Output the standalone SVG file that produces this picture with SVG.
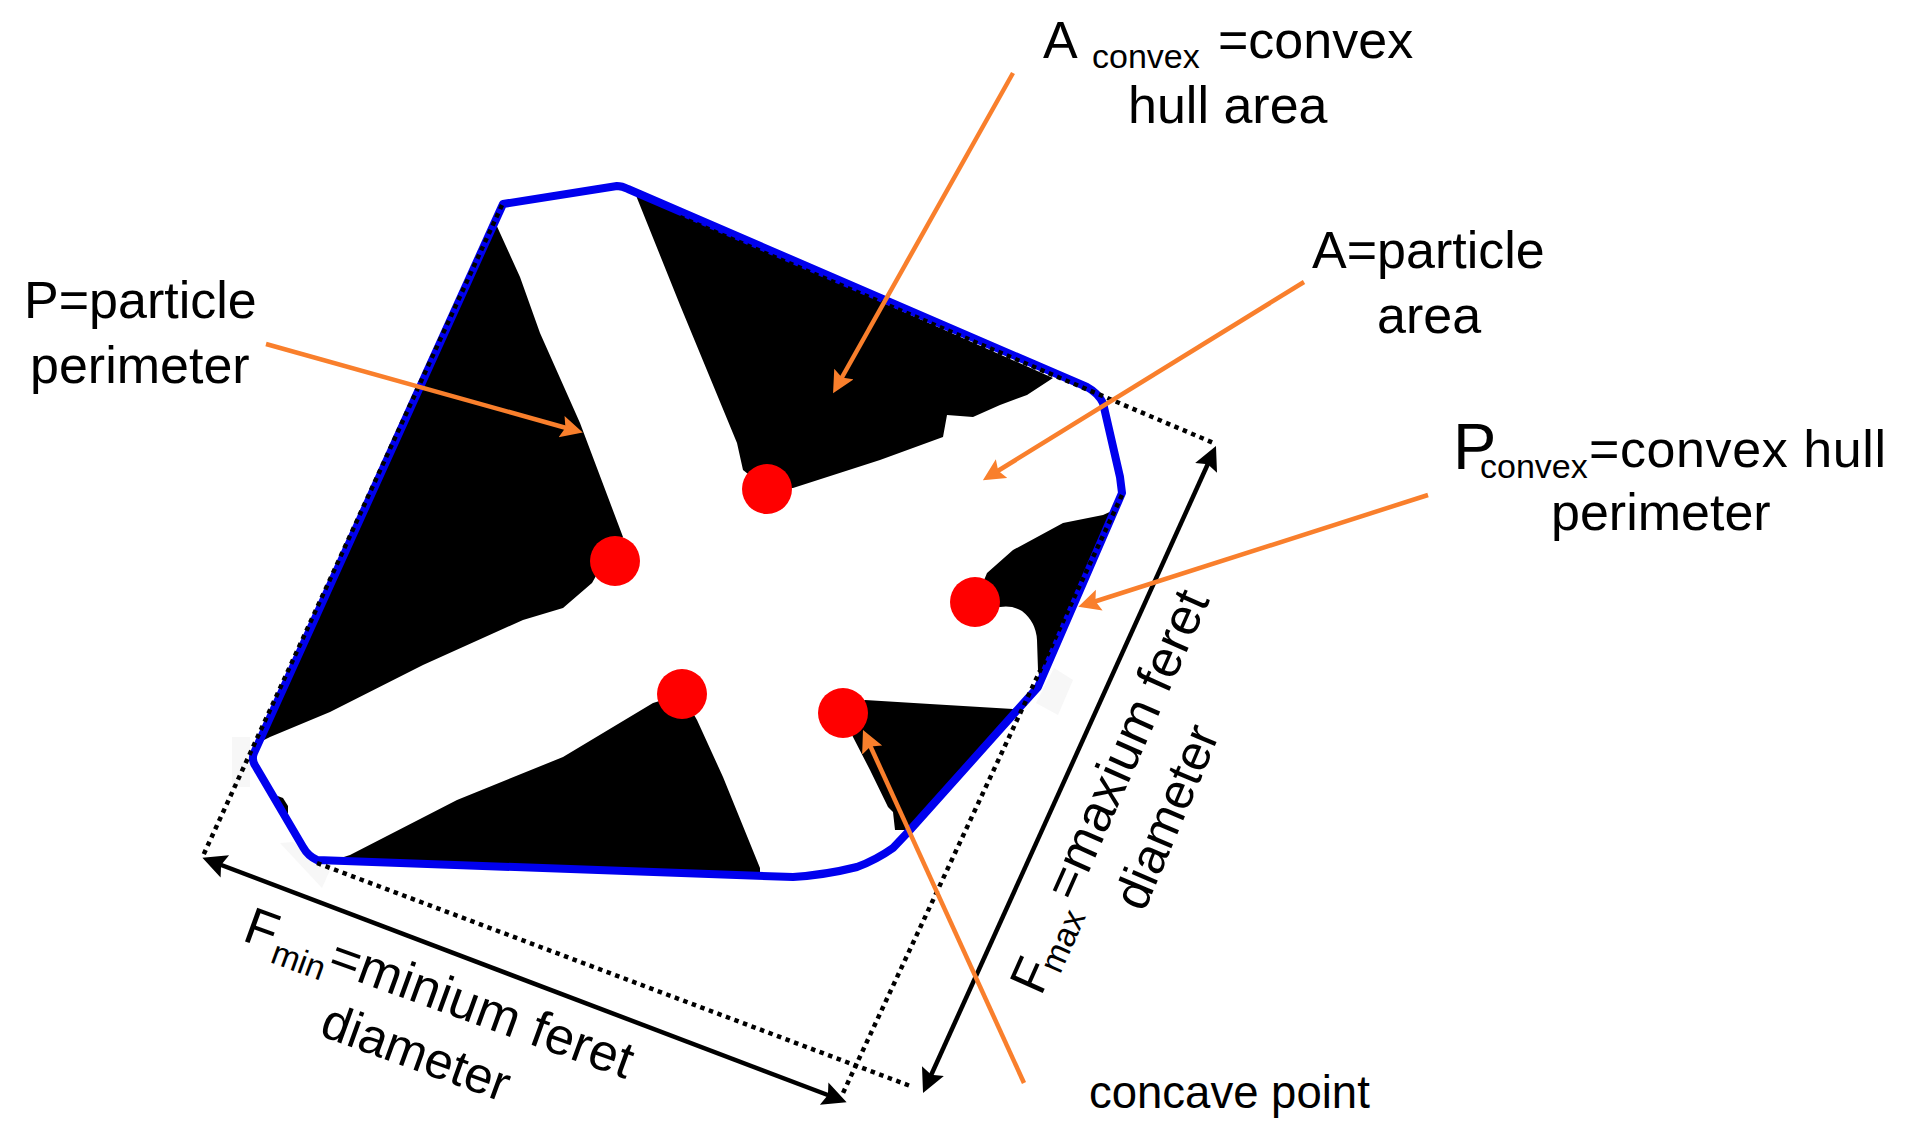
<svg xmlns="http://www.w3.org/2000/svg" width="1906" height="1135" viewBox="0 0 1906 1135">
<style>
text{font-family:"Liberation Sans",Arial,sans-serif;font-size:52px;fill:#000}
.sub{font-size:34px}
.blk{fill:#000}
.red{fill:#f00}
.patch{fill:#f7f7f7}
.hull{fill:none;stroke:#0000ee;stroke-width:8;stroke-linejoin:round}
.dot{fill:none;stroke:#000;stroke-width:4.5;stroke-dasharray:4.5 4.6}
.or{fill:none;stroke:#f97f2c;stroke-width:4.5}
.bk{fill:none;stroke:#000;stroke-width:4.5}
</style>
<defs>
<marker id="ah-o" markerUnits="userSpaceOnUse" markerWidth="26" markerHeight="26" refX="16" refY="11" orient="auto"><path d="M0,0L22,11L0,22L4,11Z" fill="#f97f2c"/></marker>
<marker id="ah-b" markerUnits="userSpaceOnUse" markerWidth="28" markerHeight="28" refX="18" refY="12" orient="auto-start-reverse"><path d="M0,0L24,12L0,24L4,12Z" fill="#000"/></marker>
</defs>
<rect width="1906" height="1135" fill="#fff"/>
<g id="artefacts">
<path class="patch" d="M232,737H250V787H232Z"/>
<path class="patch" d="M280,843L293,842L330,870L322,888Z"/>
<path class="patch" d="M1054,668L1073,680L1058,715L1036,703Z"/>
</g>
<g id="particle">
<path class="blk" d="M495,222L520,277L540,333L580,423L623,537L605,560L592,583L563,608L523,620L423,665L330,712L270,737L256,744Z"/>
<path class="blk" d="M635,193L680,305L737,443L743,470L767,489L793,488L880,460L943,437L947,415L973,417L1000,405L1027,395L1053,378Z"/>
<path class="blk" d="M987,573L1013,550L1063,523L1103,515L1114,510L1040,680L1038,670L1037,640Q1036,622 1022,611Q1012,605 1000,607L975,602Z"/>
<path class="blk" d="M865,700L930,704L1013,709L1027,700L910,830L895,830L893,812L888,807L870,770L853,737L843,713Z"/>
<path class="blk" d="M682,694L653,703L563,757L457,800L350,855L325,863L760,874L760,868L723,777L697,720Z"/>
<path class="blk" d="M275,795L283,798L288,806L288,814L279,806Z"/>
</g>
<g id="convex-hull"><path class="hull" d="M503,204L617,186Q622,186 628,189L1087,387Q1098,393 1103,403L1120,477L1122,493L1038,687L910,830L893,848Q876,860 857,867Q825,875 793,877L317,860Q308,856 303,847L256,767Q251,760 254,753Z"/></g>
<g id="concave-points">
<circle id="concave-1" class="red" cx="615" cy="561" r="25"/>
<circle id="concave-2" class="red" cx="767" cy="489" r="25"/>
<circle id="concave-3" class="red" cx="975" cy="602" r="25"/>
<circle id="concave-4" class="red" cx="682" cy="694" r="25"/>
<circle id="concave-5" class="red" cx="843" cy="713" r="25"/>
</g>
<g id="connectors">
<path class="dot" d="M502,205L202,858"/>
<path class="dot" d="M680,217L1216,444"/>
<path class="dot" d="M1122,495L843,1093"/>
<path class="dot" d="M317,863L913,1087"/>
<path class="bk" marker-start="url(#ah-b)" marker-end="url(#ah-b)" d="M208,860L841,1100"/>
<path class="bk" marker-start="url(#ah-b)" marker-end="url(#ah-b)" d="M1213.5,451.5L925.5,1087.5"/>
<path class="or" marker-end="url(#ah-o)" d="M1013,73L836,388"/>
<path class="or" marker-end="url(#ah-o)" d="M1304,282L988,477"/>
<path class="or" marker-end="url(#ah-o)" d="M266,344L577,431"/>
<path class="or" marker-end="url(#ah-o)" d="M1428,495L1084,605"/>
<path class="or" marker-end="url(#ah-o)" d="M1024,1083L865.5,735.5"/>
</g>
<g id="label-a-convex">
<text x="1043" y="58">A</text>
<text class="sub" x="1092" y="68">convex</text>
<text x="1218" y="58">=convex</text>
<text x="1128" y="123">hull area</text>
</g>
<g id="label-a">
<text x="1312" y="268">A=particle</text>
<text x="1377" y="333">area</text>
</g>
<g id="label-p">
<text x="24" y="318">P=particle</text>
<text x="30" y="383">perimeter</text>
</g>
<g id="label-p-convex">
<text x="1453" y="469" style="font-size:65px">P</text>
<text class="sub" x="1480" y="478">convex</text>
<text x="1589" y="467" textLength="297" lengthAdjust="spacing">=convex hull</text>
<text x="1551" y="530">perimeter</text>
</g>
<g id="label-concave"><text x="1089" y="1108" style="font-size:45.5px">concave point</text></g>
<g id="label-f-min">
<text transform="translate(241,940) rotate(20)">F</text>
<text class="sub" transform="translate(269,962) rotate(20)">min</text>
<text transform="translate(326,970) rotate(20)" textLength="319" lengthAdjust="spacing">=minium feret</text>
<text transform="translate(318,1035) rotate(20)" style="font-size:50.5px">diameter</text>
</g>
<g id="label-f-max">
<text transform="translate(1041,997) rotate(-66)">F</text>
<text class="sub" transform="translate(1060,975) rotate(-66)">max</text>
<text transform="translate(1075,903) rotate(-66)" textLength="332" lengthAdjust="spacing">=maxium feret</text>
<text transform="translate(1144,913) rotate(-67)" style="font-size:50px">diameter</text>
</g>
</svg>
